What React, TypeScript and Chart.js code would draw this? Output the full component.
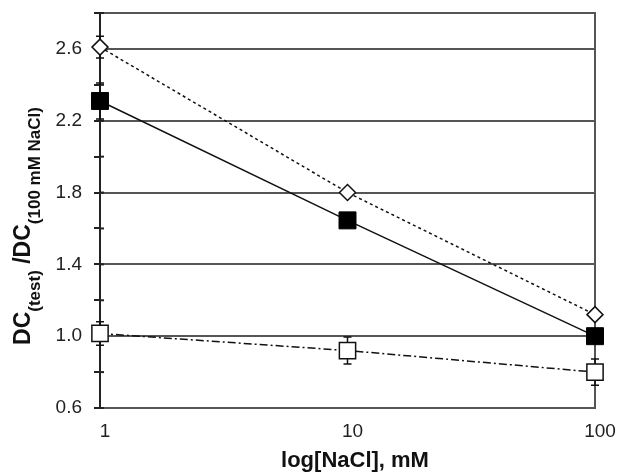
import React, { useEffect, useRef } from 'react';
import { Chart, registerables } from 'chart.js';

Chart.register(...registerables);

const xValues = [1, 10, 100];
const diamondValues = [2.61, 1.8, 1.12];
const diamondErrors = [0.06, 0.02, 0.02];
const filledValues = [2.31, 1.645, 1.0];
const filledErrors = [0.1, 0.03, 0.03];
const openValues = [1.015, 0.92, 0.8];
const openErrors = [0.065, 0.075, 0.073];
const yLabelTicks = [0.6, 1.0, 1.4, 1.8, 2.2, 2.6];
const yGridValues = [1.0, 1.4, 1.8, 2.2, 2.6, 2.8];
const xTickValues = [1, 10, 100];

const FONT = "'Liberation Sans', Arial, Helvetica, sans-serif";

const errorBarPlugin = {
  id: 'errorBars',
  beforeDatasetsDraw(chart: any) {
    const ctx = chart.ctx;
    const xs = chart.scales.x;
    const ys = chart.scales.y;
    const area = chart.chartArea;
    ctx.save();
    // frame: top and right
    ctx.strokeStyle = '#555';
    ctx.lineWidth = 2;
    ctx.beginPath();
    ctx.moveTo(area.left, area.top);
    ctx.lineTo(area.right, area.top);
    ctx.lineTo(area.right, area.bottom);
    ctx.stroke();
    // small tick marks crossing to the inside of the y axis
    ctx.strokeStyle = '#222';
    ys.ticks.forEach((t: any) => {
      const y = ys.getPixelForValue(t.value);
      ctx.beginPath();
      ctx.moveTo(area.left, y);
      ctx.lineTo(area.left + 4, y);
      ctx.stroke();
    });
    const sets = [
      { v: diamondValues, e: diamondErrors },
      { v: filledValues, e: filledErrors },
      { v: openValues, e: openErrors },
    ];
    ctx.strokeStyle = '#111';
    ctx.lineWidth = 1.5;
    sets.forEach((s) => {
      s.v.forEach((v, i) => {
        const x = xs.getPixelForValue(xValues[i]);
        const yt = ys.getPixelForValue(v + s.e[i]);
        const yb = ys.getPixelForValue(v - s.e[i]);
        ctx.beginPath();
        ctx.moveTo(x, yt);
        ctx.lineTo(x, yb);
        ctx.moveTo(x - 4, yt);
        ctx.lineTo(x + 4, yt);
        ctx.moveTo(x - 4, yb);
        ctx.lineTo(x + 4, yb);
        ctx.stroke();
      });
    });
    ctx.restore();
  },
};

const titlePlugin = {
  id: 'axisTitles',
  afterDraw(chart: any) {
    const ctx = chart.ctx;
    ctx.save();
    ctx.fillStyle = '#111';
    // x title
    ctx.font = `bold 22px ${FONT}`;
    ctx.textAlign = 'center';
    ctx.textBaseline = 'alphabetic';
    ctx.fillText('log[NaCl], mM', 355, 467);
    // y title with subscripts
    const segs = [
      { t: 'DC', sub: false },
      { t: '(test)', sub: true },
      { t: ' /DC', sub: false },
      { t: '(100 mM NaCl)', sub: true },
    ];
    const mainFont = `bold 23px ${FONT}`;
    const subFont = `bold 17px ${FONT}`;
    let total = 0;
    segs.forEach((s) => {
      ctx.font = s.sub ? subFont : mainFont;
      total += ctx.measureText(s.t).width;
    });
    const centerY = 226;
    ctx.translate(30, centerY);
    ctx.rotate(-Math.PI / 2);
    ctx.textAlign = 'left';
    let pos = -total / 2;
    segs.forEach((s) => {
      ctx.font = s.sub ? subFont : mainFont;
      ctx.fillText(s.t, pos, s.sub ? 10 : 0);
      pos += ctx.measureText(s.t).width;
    });
    ctx.restore();
  },
};

export default function App() {
  const ref = useRef<HTMLCanvasElement | null>(null);
  useEffect(() => {
    document.body.style.margin = '0';
    if (!ref.current) return;
    const chart = new Chart(ref.current, {
      type: 'line',
      data: {
        datasets: [
          {
            label: 'diamond',
            data: xValues.map((x, i) => ({ x, y: diamondValues[i] })),
            borderColor: '#111',
            borderWidth: 1.5,
            borderDash: [3, 3],
            pointStyle: 'rectRot',
            pointRadius: 8,
            pointBackgroundColor: '#fff',
            pointBorderColor: '#111',
            pointBorderWidth: 1.5,
            fill: false,
            tension: 0,
            clip: false,
          },
          {
            label: 'filled',
            data: xValues.map((x, i) => ({ x, y: filledValues[i] })),
            borderColor: '#111',
            borderWidth: 1.5,
            pointStyle: 'rect',
            pointRadius: 12,
            pointBackgroundColor: '#000',
            pointBorderColor: '#000',
            pointBorderWidth: 1,
            fill: false,
            tension: 0,
            clip: false,
          },
          {
            label: 'open',
            data: xValues.map((x, i) => ({ x, y: openValues[i] })),
            borderColor: '#111',
            borderWidth: 1.5,
            borderDash: [8, 3, 2, 3],
            pointStyle: 'rect',
            pointRadius: 11.5,
            pointBackgroundColor: '#fff',
            pointBorderColor: '#111',
            pointBorderWidth: 1.5,
            fill: false,
            tension: 0,
            clip: false,
          },
        ],
      },
      options: {
        animation: false,
        responsive: false,
        events: [],
        layout: { padding: { left: 0, right: 31, top: 9, bottom: 0 } },
        plugins: { legend: { display: false }, tooltip: { enabled: false } },
        scales: {
          x: {
            type: 'logarithmic',
            min: 1,
            max: 100,
            afterBuildTicks: (s: any) => {
              s.ticks = xTickValues.map((v) => ({ value: v }));
            },
            afterFit: (s: any) => {
              s.height = 65;
              s.paddingLeft = 0;
              s.paddingRight = 0;
            },
            ticks: {
              autoSkip: false,
              maxRotation: 0,
              padding: 12,
              labelOffset: 5,
              color: '#222',
              font: { family: FONT, size: 19 },
              callback: (v: any) => String(v),
            },
            grid: {
              drawTicks: false,
              lineWidth: 2,
              color: (c: any) => (c.tick && c.tick.value === 100 ? '#555' : 'rgba(0,0,0,0)'),
            },
            border: { color: '#555', width: 2 },
          },
          y: {
            type: 'linear',
            min: 0.6,
            max: 2.8,
            afterFit: (s: any) => {
              s.width = 100;
              s.paddingTop = 0;
              s.paddingBottom = 0;
            },
            ticks: {
              stepSize: 0.2,
              autoSkip: false,
              padding: 12,
              color: '#222',
              font: { family: FONT, size: 19 },
              callback: (v: any) =>
                yLabelTicks.some((t) => Math.abs(t - v) < 1e-6) ? Number(v).toFixed(1) : '',
            },
            grid: {
              lineWidth: 2,
              tickLength: 6,
              tickColor: '#222',
              color: (c: any) =>
                c.tick && yGridValues.some((t) => Math.abs(t - c.tick.value) < 1e-6)
                  ? '#555'
                  : 'rgba(0,0,0,0)',
            },
            border: { color: '#222', width: 2 },
          },
        },
      },
      plugins: [errorBarPlugin, titlePlugin],
    } as any);
    return () => chart.destroy();
  }, []);
  return (
    <div style={{ width: 626, height: 473, background: '#fff' }}>
      <canvas ref={ref} width={626} height={473} />
    </div>
  );
}
